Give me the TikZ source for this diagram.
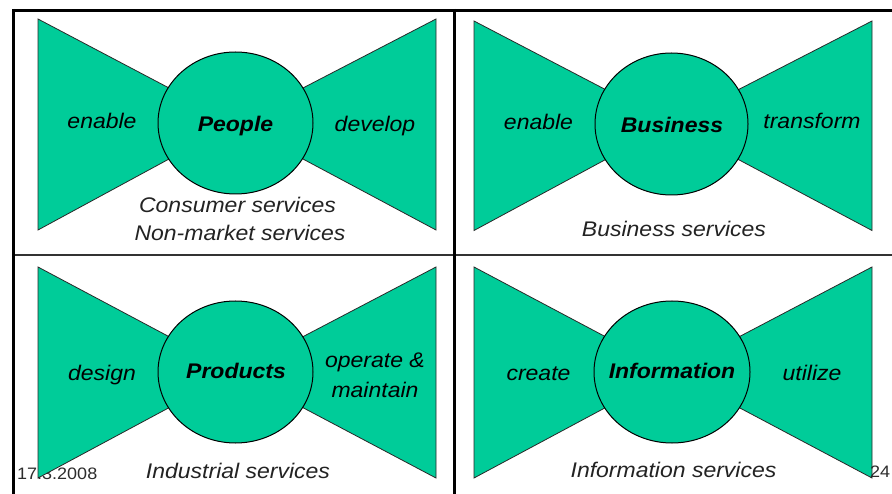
\documentclass[tikz,border=0pt]{standalone}
\usepackage{fontspec}
\setmainfont{Liberation Sans}
\usepackage{graphicx}
\usetikzlibrary{shapes.geometric}
\definecolor{bowgreen}{RGB}{0,204,153}
\definecolor{edgegray}{RGB}{40,40,40}
\definecolor{sectortext}{RGB}{35,35,35}
\definecolor{foottext}{RGB}{45,45,45}
\newcommand{\sqz}[1]{\scalebox{1}[0.92]{#1}}
% left, right, top, bottom, cx, cy, rx, ry, name
\newcommand{\drawbow}[9]{%
  \filldraw[wing] (#1,#3) -- (#5,#6) -- (#1,#4) -- cycle;
  \filldraw[wing] (#2,#3) -- (#5,#6) -- (#2,#4) -- cycle;
  \node[hub, minimum width=#7pt*2, minimum height=#8pt*2] (#9) at (#5,#6) {};
}
\begin{document}
\begin{tikzpicture}[x=1pt,y=-1pt,
  wing/.style={fill=bowgreen, draw=edgegray, line width=0.8pt, line join=miter},
  hub/.style={ellipse, fill=bowgreen, draw=black, line width=1pt, inner sep=0pt},
  verb/.style={anchor=base, font=\fontsize{23}{26}\selectfont\itshape, text=black, inner sep=0pt},
  core/.style={anchor=base, font=\fontsize{23}{26}\selectfont\bfseries\itshape, text=black, inner sep=0pt},
  sector/.style={anchor=base, font=\fontsize{23}{26}\selectfont\itshape, text=sectortext, inner sep=0pt},
  foot/.style={anchor=base, font=\fontsize{18}{20}\selectfont, text=foottext, inner sep=0pt},
  frameline/.style={line width=3pt, draw=black},
  divider/.style={line width=2pt, draw=black!80},
]
\useasboundingbox (0,0) rectangle (892,494);
\fill[white] (0,0) rectangle (892,494);

% frame
\draw[divider] (12,255.5) -- (892,255.5);
\draw[frameline] (12,10.5) -- (892,10.5);
\draw[frameline] (13.5,9) -- (13.5,494);
\draw[frameline] (454.5,9) -- (454.5,494);

% footer date (under the wing)
\node[foot, anchor=base west] (date) at (17,479) {\sqz{17.3.2008}};

% bow ties
\drawbow{38}{436}{19}{230}{235.5}{123}{77.5}{71}{people}
\drawbow{474}{872}{21}{230.5}{671.5}{124}{76.5}{71}{business}
\drawbow{38}{436}{267}{478}{235.5}{372}{77.5}{71}{products}
\drawbow{474}{872}{267}{478}{672}{372}{78}{71}{information}

% top-left
\node[verb] (tlleft) at (102,129) {\sqz{enable}};
\node[core] (tlcore) at (235.5,131.5) {\sqz{People}};
\node[verb] (tlright) at (375,131.5) {\sqz{develop}};
\node[sector] (tls1) at (237.5,213) {\sqz{Consumer services}};
\node[sector] (tls2) at (240,241) {\sqz{Non-market services}};

% top-right
\node[verb] (trleft) at (538.5,130) {\sqz{enable}};
\node[core] (trcore) at (672,133) {\sqz{Business}};
\node[verb] (trright) at (812,129) {\sqz{transform}};
\node[sector] (trs) at (674,237) {\sqz{Business services}};

% bottom-left
\node[verb] (blleft) at (102,381) {\sqz{design}};
\node[core] (blcore) at (236,379) {\sqz{Products}};
\node[verb] (blright1) at (375,368) {\sqz{operate \&}};
\node[verb] (blright2) at (375,397) {\sqz{maintain}};
\node[sector] (bls) at (238,478) {\sqz{Industrial services}};

% bottom-right
\node[verb] (brleft) at (538.5,381) {\sqz{create}};
\node[core] (brcore) at (672,379) {\sqz{Information}};
\node[verb] (brright) at (812,381) {\sqz{utilize}};
\node[sector] (brs) at (673.5,477) {\sqz{Information services}};

% page number (over the wing)
\node[foot, anchor=base west] (page) at (870,477) {\sqz{24}};
\end{tikzpicture}
\end{document}
